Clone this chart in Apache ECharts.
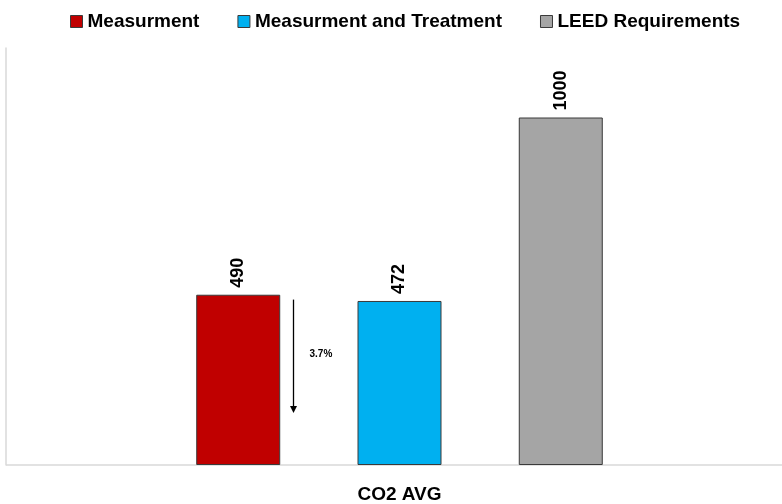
<!DOCTYPE html>
<html>
<head>
<meta charset="utf-8">
<script src="https://cdn.jsdelivr.net/npm/echarts@6/dist/echarts.min.js"></script>
<style>
  html, body { margin: 0; padding: 0; background: #fff; }
  #chart { width: 782px; height: 504px; }
</style>
</head>
<body>
<div id="chart"></div>
<script>
// CO2 average concentration (ppm)
const categories = ['CO2 AVG'];
const seriesNames = ['Measurment', 'Measurment and Treatment', 'LEED Requirements'];
const measurment = [490];
const measurmentTreatment = [472];
const leedRequirements = [1000];
const reductionLabel = '3.7%';

const colors = ['#C00000', '#00B0F0', '#A5A5A5'];
const FONT = '"Liberation Sans", Arial, sans-serif';
const AXIS_GREY = '#d9d9d9';

const chart = echarts.init(document.getElementById('chart'), null, { renderer: 'canvas' });

function barSeries(name, data, color) {
  return {
    name: name,
    type: 'bar',
    data: data,
    barWidth: 84,
    barGap: '92%',
    itemStyle: { color: color, borderColor: '#3a3a3a', borderWidth: 1 },
    label: {
      show: true,
      position: 'top',
      rotate: 90,
      align: 'left',
      verticalAlign: 'middle',
      distance: 7,
      color: '#000',
      fontFamily: FONT,
      fontWeight: 'bold',
      fontSize: 18
    }
  };
}

chart.setOption({
  animation: false,
  color: colors,
  legend: {
    top: 7,
    left: 65,
    itemWidth: 12,
    itemHeight: 12,
    itemGap: 38,
    icon: 'rect',
    itemStyle: { borderColor: '#3a3a3a', borderWidth: 1 },
    textStyle: { fontFamily: FONT, fontWeight: 'bold', fontSize: 19, color: '#000' }
  },
  grid: { left: 17, right: 0, top: 48, bottom: 38, containLabel: false },
  xAxis: {
    type: 'category',
    data: categories,
    axisLine: { show: false },
    axisTick: { show: false },
    axisLabel: { margin: 20, color: '#000', fontFamily: FONT, fontWeight: 'bold', fontSize: 19 }
  },
  yAxis: {
    type: 'value',
    min: 0,
    max: 1200,
    offset: 11,
    axisLine: { show: true, lineStyle: { color: AXIS_GREY, width: 1.5 } },
    axisTick: { show: false },
    axisLabel: { show: false },
    splitLine: { show: false }
  },
  series: [
    barSeries(seriesNames[0], measurment, colors[0]),
    barSeries(seriesNames[1], measurmentTreatment, colors[1]),
    barSeries(seriesNames[2], leedRequirements, colors[2])
  ]
});

// Baseline running from the value axis to the right edge
const baseY = chart.convertToPixel({ yAxisIndex: 0 }, 0);
const axisLeftX = 6;

// Reduction arrow between the first two bars
const topY = chart.convertToPixel({ yAxisIndex: 0 }, 476);
const botY = chart.convertToPixel({ yAxisIndex: 0 }, 150);
const midY = chart.convertToPixel({ yAxisIndex: 0 }, 320);
const catX = chart.convertToPixel({ xAxisIndex: 0 }, categories[0]);
const arrowX = catX - 106;

chart.setOption({
  graphic: [
    {
      type: 'line',
      z: 0,
      shape: { x1: axisLeftX, y1: baseY, x2: 782, y2: baseY },
      style: { stroke: AXIS_GREY, lineWidth: 1.5 }
    },
    {
      type: 'line',
      shape: { x1: arrowX, y1: topY, x2: arrowX, y2: botY - 6 },
      style: { stroke: '#000', lineWidth: 1.3 }
    },
    {
      type: 'polygon',
      shape: { points: [[arrowX - 3.5, botY - 7], [arrowX + 3.5, botY - 7], [arrowX, botY]] },
      style: { fill: '#000' }
    },
    {
      type: 'text',
      x: arrowX + 16,
      y: midY,
      style: {
        text: reductionLabel,
        fill: '#000',
        font: 'bold 10px "Liberation Sans", Arial, sans-serif',
        textVerticalAlign: 'middle'
      }
    }
  ]
});
</script>
</body>
</html>
